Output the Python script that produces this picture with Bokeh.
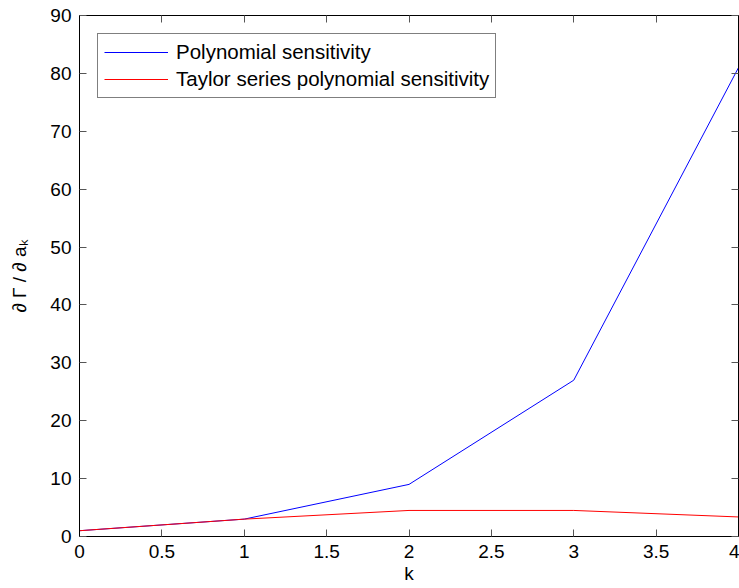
from bokeh.plotting import figure
from bokeh.models import LinearAxis, Range1d, Legend, LegendItem, CustomJSTickFormatter
from bokeh.embed import file_html
from bokeh.resources import INLINE

k = [0, 1, 2, 3, 4]
poly_sens = [1, 3, 9, 27, 81]
taylor_sens = [1, 3, 4.5, 4.5, 3.375]
x_ticks = [0, 0.5, 1, 1.5, 2, 2.5, 3, 3.5, 4]
y_ticks = [0, 10, 20, 30, 40, 50, 60, 70, 80, 90]

FONT = "Liberation Sans"

p = figure(width=739, height=588, output_backend="svg", toolbar_location=None,
           x_range=Range1d(0, 4), y_range=Range1d(0, 90),
           min_border_left=79, min_border_right=1, min_border_top=15, min_border_bottom=52,
           x_axis_label="k", y_axis_label="∂ Γ / ∂ aₖ")
p.grid.visible = False
p.outline_line_color = "black"
p.outline_line_width = 1
p.background_fill_color = "white"
p.border_fill_color = "white"

for ax in p.xaxis + p.yaxis:
    ax.major_tick_in = 7
    ax.major_tick_out = 0
    ax.minor_tick_in = 0
    ax.minor_tick_out = 0
    ax.axis_line_color = "black"
    ax.major_tick_line_color = "#555555"
    ax.major_label_text_font = FONT
    ax.major_label_text_font_size = "19px"
    ax.major_label_text_color = "black"
    ax.axis_label_text_font = FONT
    ax.axis_label_text_font_size = "19px"
    ax.axis_label_text_font_style = "normal"
    ax.axis_label_text_color = "black"
    ax.major_label_standoff = 8

p.xaxis.ticker = x_ticks
p.yaxis.ticker = y_ticks
p.xaxis.major_label_overrides = {0: "0", 1: "1", 2: "2", 3: "3", 4: "4"}
p.xaxis.axis_label_standoff = 2
p.yaxis.axis_label_standoff = 17

top = LinearAxis(ticker=x_ticks, major_tick_in=7, major_tick_out=0, minor_tick_in=0, minor_tick_out=0,
                 formatter=CustomJSTickFormatter(code="return '';"), axis_line_color="black",
                 major_tick_line_color="#555555", major_label_standoff=0)
right = LinearAxis(ticker=y_ticks, major_tick_in=7, major_tick_out=0, minor_tick_in=0, minor_tick_out=0,
                   formatter=CustomJSTickFormatter(code="return '';"), axis_line_color="black",
                   major_tick_line_color="#555555", major_label_standoff=0)
p.add_layout(top, "above")
p.add_layout(right, "right")

r1 = p.line(k, poly_sens, line_color="#0000ff", line_width=1)
r2 = p.line(k, taylor_sens, line_color="#ff0000", line_width=1)

legend = Legend(items=[LegendItem(label="Polynomial sensitivity", renderers=[r1]),
                       LegendItem(label="Taylor series polynomial sensitivity", renderers=[r2])],
                location="top_left", margin=18, padding=6, spacing=3,
                glyph_width=64, glyph_height=20, label_height=20, label_standoff=8,
                label_text_font=FONT, label_text_font_size="20.5px", label_text_color="black",
                border_line_color="black", border_line_width=1, background_fill_color="white",
                background_fill_alpha=1)
p.add_layout(legend, "center")

open("out.html", "w").write(file_html(p, INLINE))
